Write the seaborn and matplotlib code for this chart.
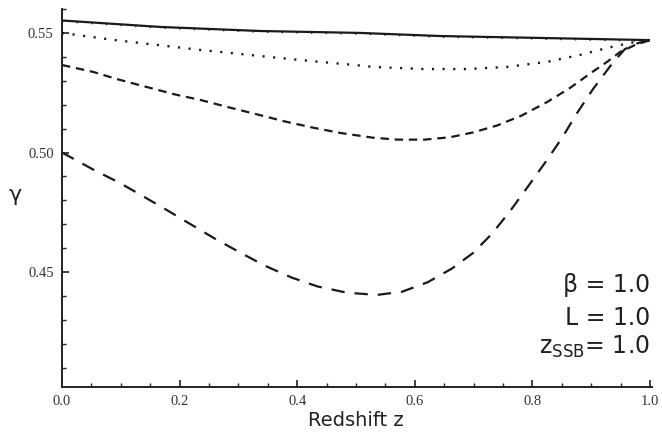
import numpy as np
import pandas as pd
import matplotlib
matplotlib.use("Agg")
import matplotlib.pyplot as plt
import seaborn as sns
from matplotlib.ticker import MultipleLocator, FormatStrFormatter

# ---- data ----
z_solid = [0.0, 0.167, 0.337, 0.507, 0.643, 0.813, 1.0]
g_solid = [0.5552, 0.5525, 0.5508, 0.5500, 0.5487, 0.5479, 0.5470]

z_dot = [0.0, 0.087, 0.161, 0.235, 0.303, 0.371, 0.439, 0.498, 0.529, 0.614,
         0.689, 0.757, 0.825, 0.881, 0.927, 0.965, 1.0]
g_dot = [0.5500, 0.5471, 0.5450, 0.5429, 0.5412, 0.5395, 0.5379, 0.5366, 0.5358, 0.5349,
         0.5349, 0.5358, 0.5379, 0.5408, 0.5437, 0.5458, 0.5470]

z_sdash = [0.0, 0.053, 0.095, 0.144, 0.192, 0.235, 0.282, 0.331, 0.379, 0.425, 0.473,
           0.529, 0.571, 0.617, 0.660, 0.699, 0.740, 0.782, 0.825, 0.864, 0.898,
           0.927, 0.949, 0.975, 1.0]
g_sdash = [0.5366, 0.5337, 0.5306, 0.5274, 0.5243, 0.5220, 0.5190, 0.5160, 0.5130, 0.5105, 0.5082,
           0.5062, 0.5054, 0.5054, 0.5064, 0.5084, 0.5113, 0.5155, 0.5211, 0.5270, 0.5330,
           0.5379, 0.5420, 0.5450, 0.5470]

z_ldash = [0.0, 0.053, 0.099, 0.136, 0.178, 0.221, 0.260, 0.303, 0.345, 0.391, 0.435,
           0.485, 0.536, 0.578, 0.622, 0.663, 0.699, 0.731, 0.762, 0.793, 0.824, 0.850,
           0.876, 0.903, 0.932, 0.957, 0.980, 1.0]
g_ldash = [0.5000, 0.4929, 0.4872, 0.4820, 0.4760, 0.4697, 0.4640, 0.4582, 0.4527, 0.4477, 0.4440,
           0.4414, 0.4405, 0.4418, 0.4458, 0.4515, 0.4580, 0.4660, 0.4755, 0.4860, 0.4966, 0.5060,
           0.5165, 0.5265, 0.5360, 0.5432, 0.5458, 0.5470]

x_ticks = [0.0, 0.2, 0.4, 0.6, 0.8, 1.0]
y_ticks = [0.45, 0.50, 0.55]
annot_lines = ["β = 1.0", "L = 1.0", r"z$_{\mathregular{SSB}}$= 1.0"]

sns.set_style("ticks")
plt.rcParams["mathtext.fontset"] = "dejavusans"

fig = plt.figure(figsize=(6.62, 4.41), dpi=100)
ax = fig.add_axes([62 / 662, 1 - 387 / 441, (650 - 62) / 662, (387 - 9) / 441])

col = "#1a1a1a"
lw = 1.6
sns.lineplot(x=z_solid, y=g_solid, ax=ax, color=col, lw=lw, linestyle="-")
sns.lineplot(x=z_solid, y=np.array(g_solid) - 0.0003, ax=ax, color=col, lw=1.6,
             linestyle=(0, (0.6, 6)))
sns.lineplot(x=z_dot, y=g_dot, ax=ax, color=col, lw=1.7, linestyle=(0, (0.9, 3.6)))
sns.lineplot(x=z_sdash, y=g_sdash, ax=ax, color=col, lw=lw, linestyle=(0, (3.8, 2.6)))
sns.lineplot(x=z_ldash, y=g_ldash, ax=ax, color=col, lw=lw, linestyle=(0, (6.0, 4.5)))

ax.set_xlim(0.0, 1.0)
ax.set_ylim(0.402, 0.560)
sns.despine(ax=ax)
for s in ["left", "bottom"]:
    ax.spines[s].set_linewidth(1.4)
    ax.spines[s].set_color("#222222")
ax.spines["bottom"].set_bounds(0.0, 1.004)

ax.set_xticks(x_ticks)
ax.set_yticks(y_ticks)
ax.xaxis.set_minor_locator(MultipleLocator(0.05))
ax.yaxis.set_minor_locator(MultipleLocator(0.01))
ax.xaxis.set_major_formatter(FormatStrFormatter("%.1f"))
ax.yaxis.set_major_formatter(FormatStrFormatter("%.2f"))
ax.tick_params(which="major", direction="in", length=5, width=1.2, color="#222222",
               labelsize=10.5, pad=6, labelcolor="#333333")
ax.tick_params(which="minor", direction="in", length=3, width=1.0, color="#222222")
for lab in ax.get_xticklabels() + ax.get_yticklabels():
    lab.set_family("Liberation Serif")

ax.set_xlabel("Redshift z", fontsize=14, family="DejaVu Sans", color="#222222", labelpad=2)
ax.set_ylabel("")
fig.text(15 / 662, 1 - 195 / 441, "γ", fontsize=16, family="DejaVu Sans",
         ha="center", va="center", color="#222222")

ys = [285, 318, 347]
for t, y in zip(annot_lines, ys):
    fig.text(650 / 662, 1 - y / 441, t, fontsize=17, family="DejaVu Sans",
             ha="right", va="center", color="#222222")

fig.savefig("out.png", dpi=100)
